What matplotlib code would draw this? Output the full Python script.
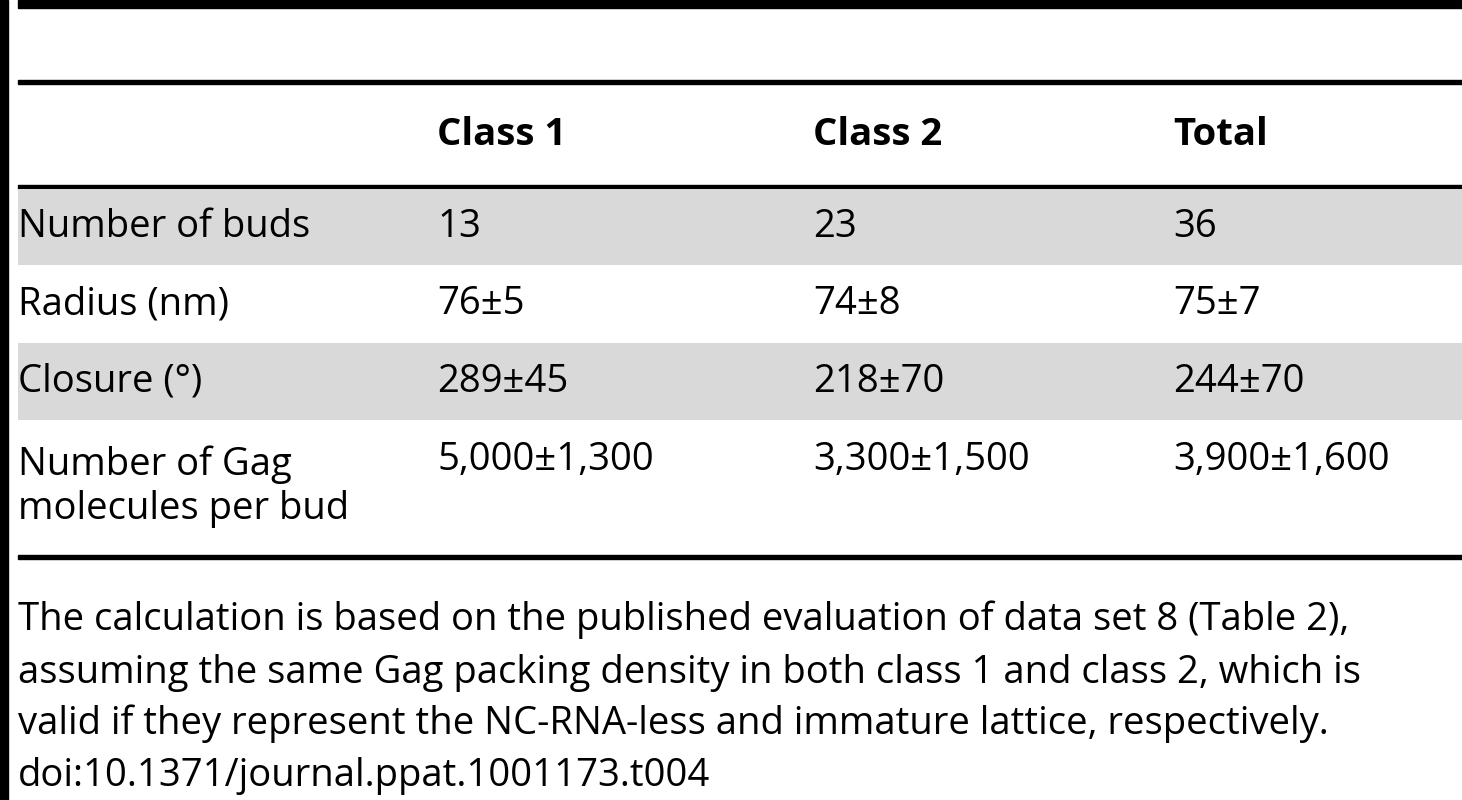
import matplotlib
matplotlib.use("Agg")
import matplotlib.pyplot as plt
from matplotlib.patches import Rectangle

columns = ["Class 1", "Class 2", "Total"]
row_labels = ["Number of buds", "Radius (nm)", "Closure (°)", "Number of Gag\nmolecules per bud"]
class1 = ["13", "76±5", "289±45", "5,000±1,300"]
class2 = ["23", "74±8", "218±70", "3,300±1,500"]
total = ["36", "75±7", "244±70", "3,900±1,600"]
footnote = ["The calculation is based on the published evaluation of data set 8 (Table 2),",
            "assuming the same Gag packing density in both class 1 and class 2, which is",
            "valid if they represent the NC-RNA-less and immature lattice, respectively.",
            "doi:10.1371/journal.ppat.1001173.t004"]

plt.rcParams['font.family'] = ['Open Sans', 'DejaVu Sans']
fig = plt.figure(figsize=(14.62, 8), dpi=100)
ax = fig.add_axes([0, 0, 1, 1])
ax.set_xlim(0, 1462); ax.set_ylim(800, 0); ax.axis('off')

fs = 27.5
ax.add_patch(Rectangle((0, 0), 8, 800, color='black'))
ax.add_patch(Rectangle((18, 0), 1444, 8, color='black'))
ax.add_patch(Rectangle((18, 80), 1444, 4, color='black'))
ax.add_patch(Rectangle((18, 185), 1444, 4, color='black'))
ax.add_patch(Rectangle((18, 555), 1444, 4, color='black'))

row_bounds = [(189, 265), (265, 343), (343, 420), (420, 555)]
for i, (y0, y1) in enumerate(row_bounds):
    if i % 2 == 0:
        ax.add_patch(Rectangle((18, y0), 1444, y1 - y0, color='#d9d9d9', lw=0))

col_x = [18, 437, 813, 1173]
for j, c in enumerate(columns):
    ax.text(col_x[j + 1], 135, c, fontsize=fs, fontweight='bold', va='center', ha='left')

for i, (y0, y1) in enumerate(row_bounds):
    if i == 3:
        ax.text(col_x[0], 487, row_labels[i], fontsize=fs, va='center', ha='left', linespacing=1.2)
        yv = 460
    else:
        yv = (y0 + y1) / 2
        ax.text(col_x[0], yv, row_labels[i], fontsize=fs, va='center', ha='left')
    for j, vals in enumerate([class1, class2, total]):
        ax.text(col_x[j + 1], yv, vals[i], fontsize=fs, va='center', ha='left')

fy = [620, 673, 724, 776]
for k, line in enumerate(footnote):
    ax.text(18, fy[k], line, fontsize=fs, va='center', ha='left')

fig.savefig("out.png", dpi=100)
